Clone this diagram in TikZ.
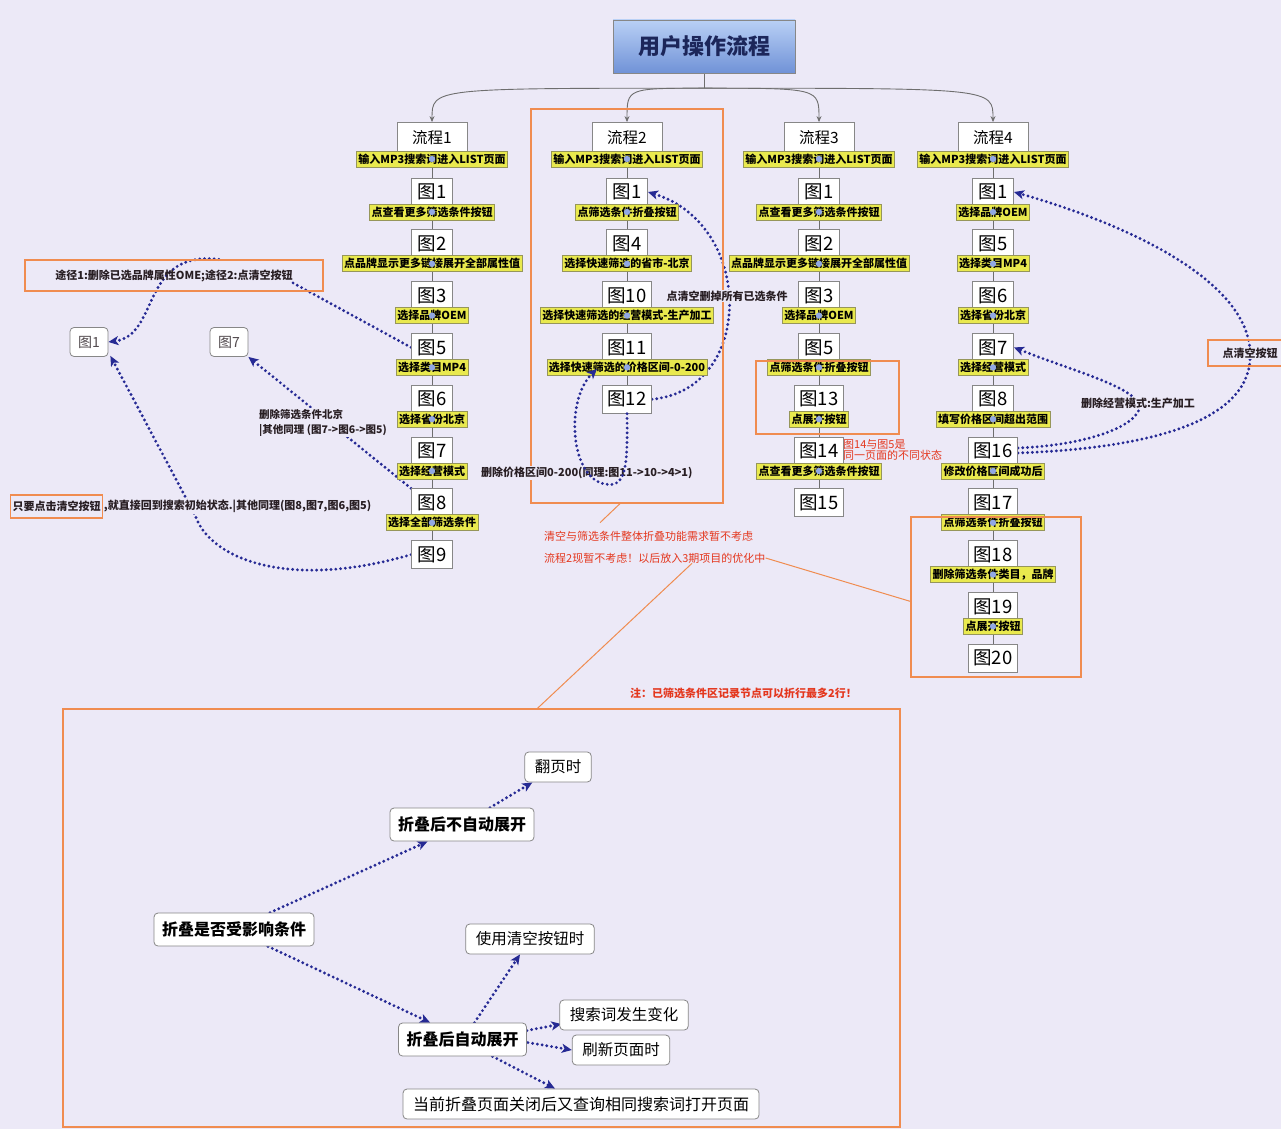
\documentclass[tikz,border=0pt]{standalone}
\usepackage{fontspec}
\setmainfont{Noto Sans CJK SC}
\usetikzlibrary{arrows.meta,calc}

\definecolor{bgcol}{RGB}{236,233,247}
\definecolor{boxgray}{RGB}{135,135,135}
\definecolor{stemgray}{RGB}{110,110,110}
\definecolor{tagyellow}{RGB}{233,233,78}
\definecolor{tagedge}{RGB}{150,150,90}
\definecolor{pinblue}{RGB}{145,168,228}
\definecolor{frameorange}{RGB}{240,140,80}
\definecolor{navy}{RGB}{38,42,148}
\definecolor{notetext}{RGB}{40,30,35}
\definecolor{notered}{RGB}{228,55,30}
\definecolor{titletop}{RGB}{185,208,245}
\definecolor{titlebot}{RGB}{112,146,215}
\definecolor{titletext}{RGB}{28,38,90}

\pgfdeclarelayer{bg}
\pgfsetlayers{bg,main}

% one step of a flow: picture box plus the yellow action tag under it
\newcommand\figstep[5]{%
  \node[figbox] (#1) at (#2,#3) {#4};
  \ifx\relax#5\relax\else
    \node[tagbox] (#1t) at (#2,#3+20) {#5};
    \fill[pinblue] (#1t.center) circle (3.2pt);
  \fi}
% head of a flow column
\newcommand\headstep[3]{%
  \node[headbox] (#1) at (#2,138) {#3};
  \node[tagbox] (#1t) at (#2,159) {输入MP3搜索词进入LIST页面};
  \fill[pinblue] (#1t.center) circle (3.2pt);}

\begin{document}
\begin{tikzpicture}[x=1pt,y=-1pt,
  figbox/.style={draw=boxgray, fill=white, line width=0.9pt, font=\fontsize{18.5}{18.5}\selectfont,
    inner xsep=5pt, inner ysep=0pt, minimum height=28pt, minimum width=41pt},
  headbox/.style={draw=boxgray, fill=white, line width=0.8pt, font=\fontsize{15.5}{15.5}\selectfont,
    minimum width=70pt, minimum height=31pt, inner sep=0pt},
  tagbox/.style={draw=tagedge, fill=tagyellow, line width=0.7pt, font=\bfseries\fontsize{11}{11}\selectfont,
    inner xsep=2pt, inner ysep=0pt, minimum height=16pt},
  stem/.style={draw=stemgray, line width=0.9pt},
  frame/.style={draw=frameorange, line width=1.2pt, inner sep=0pt},
  link/.style={draw=frameorange, line width=1pt},
  trail/.style={draw=navy, line width=3.2pt, dash pattern=on 0pt off 4.8pt, line cap=round},
  trailarrow/.style={trail, -{Stealth[length=10pt,width=9pt,inset=2.5pt]}},
  note/.style={font=\bfseries\fontsize{11}{15}\selectfont, text=notetext, fill=bgcol, inner sep=1pt},
  rednote/.style={font=\fontsize{11}{13}\selectfont, text=notered, inner sep=0pt},
  leafbox/.style={draw=boxgray, fill=white, rounded corners=4pt, line width=0.8pt},
  mindbold/.style={leafbox, font=\bfseries\fontsize{16}{16}\selectfont, inner xsep=8pt, minimum height=33pt},
  mindleaf/.style={leafbox, font=\fontsize{15.5}{15.5}\selectfont, inner xsep=10pt, minimum height=30pt},
  smallbox/.style={leafbox, font=\fontsize{14}{14}\selectfont, text=notetext!80, minimum width=38pt, minimum height=29pt, inner sep=0pt},
]
\begin{pgfonlayer}{bg}
  \fill[bgcol] (0,0) rectangle (1281,1129);
\end{pgfonlayer}
\useasboundingbox (0,0) rectangle (1281,1129);

% ---------- title ----------
\node[draw=boxgray, top color=titletop, bottom color=titlebot, minimum width=182pt, minimum height=53pt,
  font=\bfseries\fontsize{22}{22}\selectfont, text=titletext] (top) at (704,46.5) {用户操作流程};

% ---------- flow 1 ----------
\headstep{h1}{432}{流程1}
\figstep{a1}{432}{192}{图1}{点查看更多筛选条件按钮}
\figstep{a2}{432}{243.8}{图2}{点品牌显示更多链接展开全部属性值}
\figstep{a3}{432}{295.6}{图3}{选择品牌OEM}
\figstep{a4}{432}{347.4}{图5}{选择类目MP4}
\figstep{a5}{432}{399.2}{图6}{选择省份北京}
\figstep{a6}{432}{451}{图7}{选择经营模式}
\figstep{a7}{432}{502.8}{图8}{选择全部筛选条件}
\figstep{a8}{432}{554.6}{图9}{}

% ---------- flow 2 ----------
\headstep{h2}{627}{流程2}
\figstep{b1}{627}{192}{图1}{点筛选条件折叠按钮}
\figstep{b2}{627}{243.8}{图4}{选择快速筛选的省市-北京}
\figstep{b3}{627}{295.6}{图10}{选择快速筛选的经营模式-生产加工}
\figstep{b4}{627}{347.4}{图11}{选择快速筛选的价格区间-0-200}
\figstep{b5}{627}{399.2}{图12}{}

% ---------- flow 3 ----------
\headstep{h3}{819}{流程3}
\figstep{c1}{819}{192}{图1}{点查看更多筛选条件按钮}
\figstep{c2}{819}{243.8}{图2}{点品牌显示更多链接展开全部属性值}
\figstep{c3}{819}{295.6}{图3}{选择品牌OEM}
\figstep{c4}{819}{347.4}{图5}{点筛选条件折叠按钮}
\figstep{c5}{819}{399.2}{图13}{点展开按钮}
\figstep{c6}{819}{451}{图14}{点查看更多筛选条件按钮}
\figstep{c7}{819}{502.8}{图15}{}

% ---------- flow 4 ----------
\headstep{h4}{993}{流程4}
\figstep{d1}{993}{192}{图1}{选择品牌OEM}
\figstep{d2}{993}{243.8}{图5}{选择类目MP4}
\figstep{d3}{993}{295.6}{图6}{选择省份北京}
\figstep{d4}{993}{347.4}{图7}{选择经营模式}
\figstep{d5}{993}{399.2}{图8}{填写价格区间超出范围}
\figstep{d6}{993}{451}{图16}{修改价格区间成功后}
\figstep{d7}{993}{502.8}{图17}{点筛选条件折叠按钮}
\figstep{d8}{993}{554.6}{图18}{删除筛选条件类目，品牌}
\figstep{d9}{993}{606.4}{图19}{点展开按钮}
\figstep{d10}{993}{658.2}{图20}{}

% ---------- orange frames ----------
\node[frame, minimum width=192pt, minimum height=394pt] (f2) at (627,306) {};
\node[frame, minimum width=143pt, minimum height=73pt] (f3) at (827.5,397.5) {};
\node[frame, minimum width=170pt, minimum height=160pt] (f4) at (996,597) {};
\node[frame, minimum width=837pt, minimum height=418pt] (fb) at (481.5,918) {};

% ---------- side targets and notes ----------
\node[smallbox] (lf1) at (89,342) {图1};
\node[smallbox] (lf7) at (229,342) {图7};
\node[frame, minimum width=298pt, minimum height=31pt, font=\bfseries\fontsize{11}{12}\selectfont, text=notetext]
  (route) at (174,275.5) {途径1:删除已选品牌属性OME;途径2:点清空按钮};
\node[note, anchor=north west, align=left, font=\bfseries\fontsize{10.5}{15}\selectfont] (n1) at (258,408) {删除筛选条件北京\\|其他同理 (图7->图6->图5)};
\node[frame, anchor=west, minimum height=23pt, inner xsep=2pt, font=\bfseries\fontsize{11}{12}\selectfont, text=notetext]
  (clr) at (10,506.5) {只要点击清空按钮};
\node[note, anchor=west, inner xsep=0.5pt] (clr2) at (clr.east) {,就直接回到搜索初始状态.|其他同理(图8,图7,图6,图5)};
\node[note] (n2) at (727,296) {点清空删掉所有已选条件};
\node[note, anchor=west] (n3) at (480,473) {删除价格区间0-200(同理:图11->10->4>1)};
\node[rednote, anchor=north west, align=left, font=\fontsize{11}{11.5}\selectfont] (n4) at (843,439) {图14与图5是\\同一页面的不同状态};
\node[frame, minimum width=78pt, minimum height=26pt] (clear) at (1247,353) {};
\node[note] (clearlbl) at (1250,353) {点清空按钮};
\node[note] (n5) at (1138,403) {删除经营模式:生产加工};
\node[rednote, anchor=west] (r1) at (544,536) {清空与筛选条件整体折叠功能需求暂不考虑};
\node[rednote, anchor=west] (r2) at (544,558) {流程2现暂不考虑！以后放入3期项目的优化中};
\node[rednote, anchor=west, font=\bfseries\fontsize{11}{13}\selectfont] (r3) at (630,693) {注：已筛选条件区记录节点可以折行最多2行！};

% ---------- folding map ----------
\node[mindbold] (q0) at (234,929.5) {折叠是否受影响条件};
\node[mindbold] (q1) at (462,824.5) {折叠后不自动展开};
\node[mindleaf] (q2) at (558,767) {翻页时};
\node[mindbold] (q3) at (462.5,1039.5) {折叠后自动展开};
\node[mindleaf] (q4) at (530,939) {使用清空按钮时};
\node[mindleaf] (q5) at (624,1015) {搜索词发生变化};
\node[mindleaf] (q6) at (621,1050) {刷新页面时};
\node[mindleaf, font=\fontsize{16}{16}\selectfont] (q7) at (581,1104) {当前折叠页面关闭后又查询相同搜索词打开页面};

% ---------- connectors behind the nodes ----------
\begin{pgfonlayer}{bg}
  \coordinate (hub) at ($(top.south)+(0,15)$);
  \draw[stem] (top.south) -- (hub);
  \foreach \h in {h1,h2,h3,h4}
    \draw[stem, -{Stealth[length=6pt,width=5pt]}] (hub) .. controls (hub -| \h) .. (\h.north);
  \draw[stem] (h1) -- (a8);
  \draw[stem] (h2) -- (b5);
  \draw[stem] (h3) -- (c7);
  \draw[stem] (h4) -- (d10);

  % orange call-out lines
  \draw[link] ($(f2.south)+(-7,0)$) -- ($(r1.north west)+(56,-8)$);
  \draw[link] ($(fb.north west)+(475,0)$) -- ($(r2.south west)+(148,0)$);
  \draw[link] (r2.east) -- ($(f4.north west)+(0,85)$);

  % flow 1 returns
  \draw[trail] (a4.west) -- ($(route.south east)+(-33,-10)$);
  \draw[trailarrow] ($(route.north west)!0.65!(route.north east)$) .. controls (140,250) and (160,335) .. (lf1.east);
  \draw[trailarrow] (a7.north west) -- (lf7.south east);
  \draw[trailarrow] (a8.west) .. controls (290,590) and (210,560) .. (195,515) -- ($(lf1.south east)+(2,-1)$);

  % flow 2 return
  \draw[trailarrow] (b5.east) .. controls (755,390) and (755,225) .. (b1.east);

  % flow 4 returns
  \draw[trailarrow] ($(d6.east)+(0,2)$) .. controls (1180,447) and (1255,410) .. (1250,350)
    .. controls (1245,280) and (1130,225) .. (d1.east);
  \draw[trailarrow] ($(d6.east)+(0,-3)$) .. controls (1090,445) and (1140,425) .. (1140,405)
    .. controls (1130,385) and (1070,370) .. (d4.east);

  % folding map
  \draw[trailarrow] ($(q0.north)+(36,0)$) -- ($(q1.south west)+(38,0)$);
  \draw[trailarrow] ($(q0.south)+(34,0)$) -- ($(q3.north west)+(32,0)$);
  \draw[trailarrow] ($(q1.north)+(28,0)$) -- ($(q2.south west)+(8,0)$);
  \draw[trailarrow] ($(q3.north)+(12,0)$) -- ($(q4.south)+(-10,0)$);
  \draw[trailarrow] ($(q3.east)+(0,-9)$) -- ($(q5.west)+(2,9)$);
  \draw[trailarrow] ($(q3.east)+(1,3)$) -- (q6.west);
  \draw[trailarrow] ($(q3.south)+(30,0)$) -- ($(q7.north)+(-26,0)$);
\end{pgfonlayer}

% loop from 图12 back to 图11, drawn over the tag
\draw[trailarrow] (b5.south) .. controls (628,470) and (625,488) .. (605,484)
  .. controls (570,478) and (565,400) .. ($(b4.south west)+(-5,7)$);

\end{tikzpicture}
\end{document}
